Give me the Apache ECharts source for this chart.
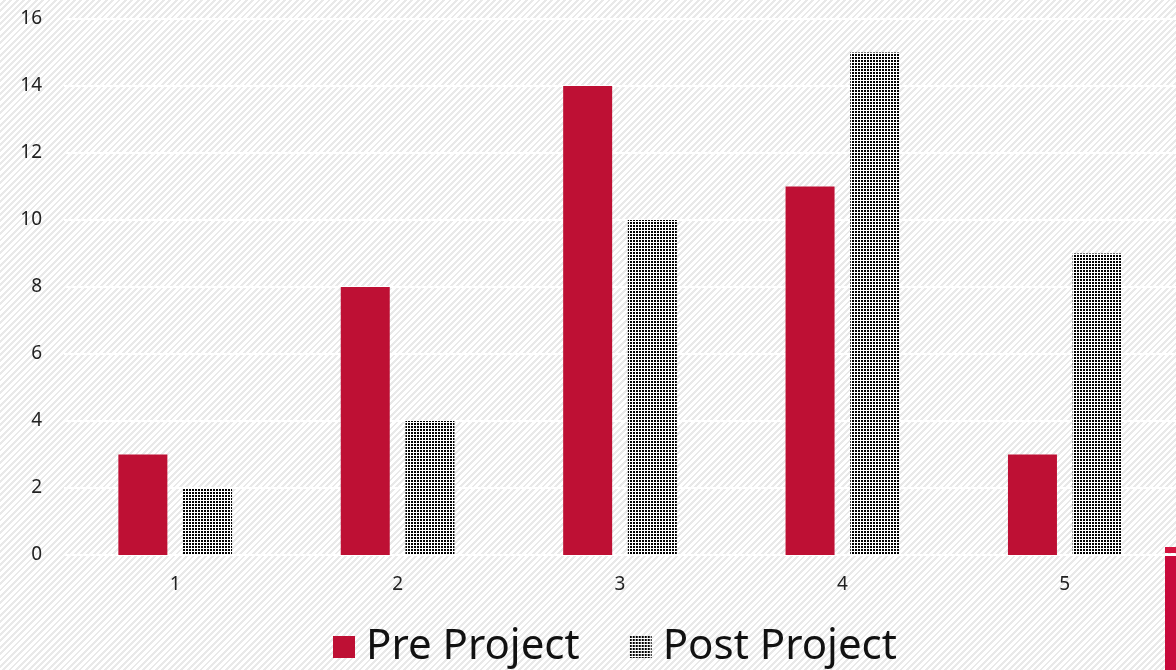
<!DOCTYPE html>
<html>
<head>
<meta charset="utf-8">
<script src="https://cdn.jsdelivr.net/npm/echarts@6/dist/echarts.min.js"></script>
<style>
  html, body { margin: 0; padding: 0; }
  #chart {
    width: 1176px; height: 670px;
    background: repeating-linear-gradient(135deg, #ffffff 0px, #ffffff 2.5px, #e9e9e9 2.5px, #e9e9e9 4.5px);
  }
</style>
</head>
<body>
<div id="chart"></div>
<script>
// data
const categories = ['1', '2', '3', '4', '5'];
const preProject = [3, 8, 14, 11, 3];
const postProject = [2, 4, 10, 15, 9];

// dotted fill for the post project bars
function dotPattern() {
  const c = document.createElement('canvas');
  c.width = 3;
  c.height = 3;
  const ctx = c.getContext('2d');
  ctx.fillStyle = '#ffffff';
  ctx.fillRect(0, 0, 3, 3);
  ctx.fillStyle = '#000000';
  ctx.fillRect(0, 0, 2, 2);
  return c;
}

const chart = echarts.init(document.getElementById('chart'));
const dots = { image: dotPattern(), repeat: 'repeat' };
const font = 'Noto Sans';

chart.setOption({
  backgroundColor: 'transparent',
  animation: false,
  grid: { left: 64, right: 0, top: 19, bottom: 115 },
  legend: {
    top: 621,
    left: 328,
    itemWidth: 22,
    itemHeight: 22,
    itemGap: 50,
    textStyle: { fontFamily: font, fontSize: 42, color: '#111', padding: [0, 0, 0, 6] },
    data: [
      { name: 'Pre Project', icon: 'rect' },
      { name: 'Post Project', icon: 'rect' }
    ]
  },
  xAxis: {
    type: 'category',
    data: categories,
    axisLine: { show: false },
    axisTick: { show: false },
    axisLabel: { color: '#222', fontFamily: font, fontSize: 19, margin: 20 }
  },
  yAxis: {
    type: 'value',
    min: 0,
    max: 16,
    interval: 2,
    axisLine: { show: false },
    axisTick: { show: false },
    axisLabel: { color: '#222', fontFamily: font, fontSize: 19, margin: 22 },
    splitLine: { lineStyle: { color: '#ffffff', width: 2 } }
  },
  series: [
    {
      name: 'Pre Project',
      type: 'bar',
      data: preProject,
      barWidth: 49,
      barGap: '32%',
      itemStyle: { color: '#be1034' }
    },
    {
      name: 'Post Project',
      type: 'bar',
      data: postProject,
      barWidth: 49,
      itemStyle: { color: dots }
    }
  ],
  graphic: [
    { type: 'rect', right: 0, top: 547, shape: { width: 11, height: 6 }, style: { fill: '#d4143f' } },
    { type: 'rect', right: 0, top: 555, shape: { width: 11, height: 115 }, style: { fill: '#c8093b' } }
  ]
});
</script>
</body>
</html>
